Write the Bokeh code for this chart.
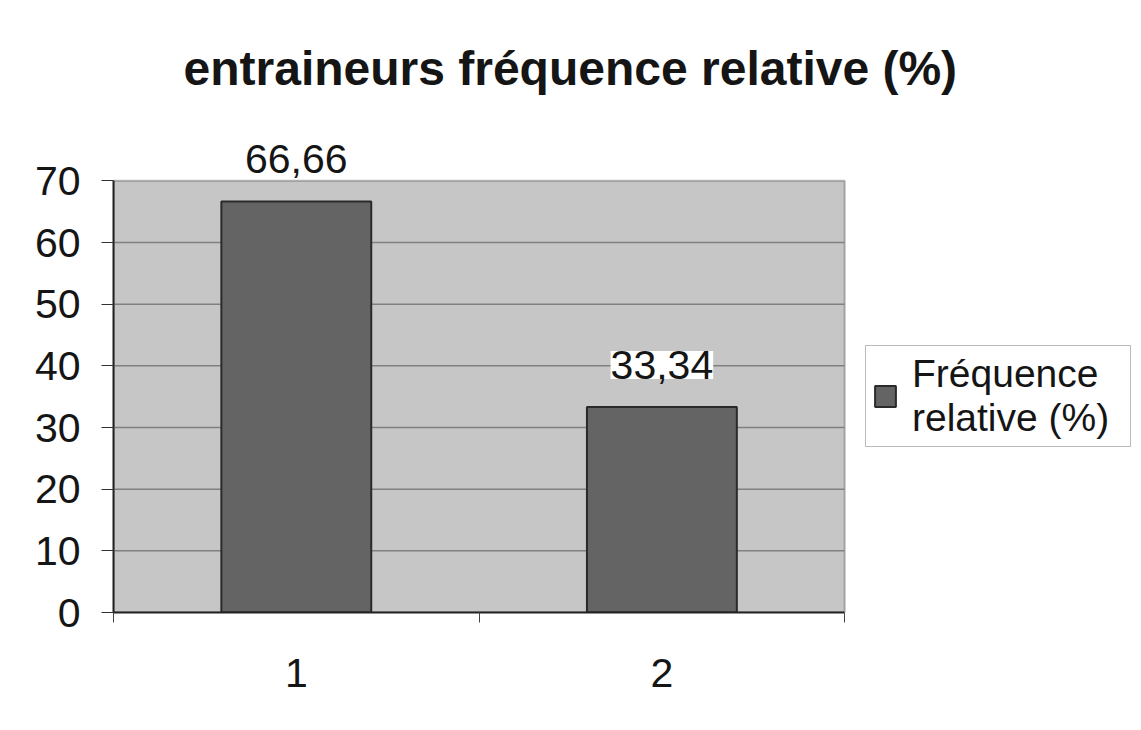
from bokeh.plotting import figure
from bokeh.models import (ColumnDataSource, LabelSet, Legend, LegendItem, FixedTicker,
                          Range1d, BoxAnnotation)
from bokeh.core.properties import value
from bokeh.embed import file_html
from bokeh.resources import INLINE

categories = ["1", "2"]
values = [66.66, 33.34]
value_labels = ["66,66", "33,34"]
series_name = "Fréquence\nrelative (%)"
title_text = "entraineurs fréquence relative (%)"
y_ticks = [0, 10, 20, 30, 40, 50, 60, 70]
y_max = 70

n = len(categories)
xs = [i + 0.5 for i in range(n)]
src = ColumnDataSource(dict(x=xs, top=values, lab=value_labels))
grid_vals = y_ticks[1:-1]
grid_src = ColumnDataSource(dict(y=grid_vals, x0=[0] * len(grid_vals), x1=[n] * len(grid_vals)))

FONT = "Liberation Sans"
TXT = "#151515"

p = figure(width=1133, height=722, output_backend="svg", toolbar_location=None,
           x_range=Range1d(0, 2.79), y_range=Range1d(0, 78),
           min_border_left=113, min_border_right=0, min_border_bottom=110, min_border_top=131)

p.title.text = title_text
p.title.text_font = FONT
p.title.text_font_size = "48px"
p.title.text_font_style = "bold"
p.title.align = "left"
p.title.offset = 70
p.title.standoff = 73
p.title.text_color = TXT

p.background_fill_color = "white"
p.border_fill_color = "white"
p.outline_line_color = None

plot_area = BoxAnnotation(left=0, right=n, bottom=0, top=y_max, fill_color="#c6c6c6",
                          fill_alpha=1.0, line_color="#222222", line_width=2, level="image")
p.add_layout(plot_area)

p.segment(x0="x0", x1="x1", y0="y", y1="y", source=grid_src,
          line_color="#808080", line_width=1.5)

r = p.vbar(x="x", top="top", width=0.41, source=src, fill_color="#646464",
           line_color="#2a2a2a", line_width=2)

labels = LabelSet(x="x", y="top", text="lab", source=src, y_offset=42,
                  text_align="center", text_baseline="middle",
                  text_font=value(FONT), text_font_size="41px", text_color=TXT,
                  background_fill_color="white")
p.add_layout(labels)

p.xgrid.visible = False
p.ygrid.visible = False

p.yaxis.ticker = FixedTicker(ticks=y_ticks)
p.yaxis.bounds = (0, y_max)
p.yaxis.major_label_text_font = FONT
p.yaxis.major_label_text_font_size = "41px"
p.yaxis.major_label_text_color = TXT
p.yaxis.major_label_standoff = 21
p.yaxis.major_tick_out = 12
p.yaxis.major_tick_in = 0
p.yaxis.major_tick_line_color = "#333333"
p.yaxis.minor_tick_line_color = None
p.yaxis.axis_line_color = "#222222"
p.yaxis.axis_line_width = 2

p.xaxis.ticker = FixedTicker(ticks=xs, minor_ticks=list(range(n + 1)))
p.xaxis.bounds = (0, n)
p.xaxis.major_label_overrides = {x: c for x, c in zip(xs, categories)}
p.xaxis.major_label_text_font = FONT
p.xaxis.major_label_text_font_size = "41px"
p.xaxis.major_label_text_color = TXT
p.xaxis.major_label_standoff = 36
p.xaxis.major_tick_line_color = None
p.xaxis.minor_tick_out = 10
p.xaxis.minor_tick_in = 0
p.xaxis.minor_tick_line_color = "#444444"
p.xaxis.axis_line_color = "#222222"
p.xaxis.axis_line_width = 2

legend = Legend(items=[LegendItem(label=series_name, renderers=[r])],
                location=(752, 165), label_text_font=FONT, label_text_font_size="39px",
                label_text_color=TXT, glyph_width=26, glyph_height=26,
                border_line_color="#777777", border_line_width=1.5,
                background_fill_color="white", padding=6, spacing=0, margin=0,
                label_standoff=14, label_width=212)
p.add_layout(legend)

open("out.html", "w").write(file_html(p, INLINE))
